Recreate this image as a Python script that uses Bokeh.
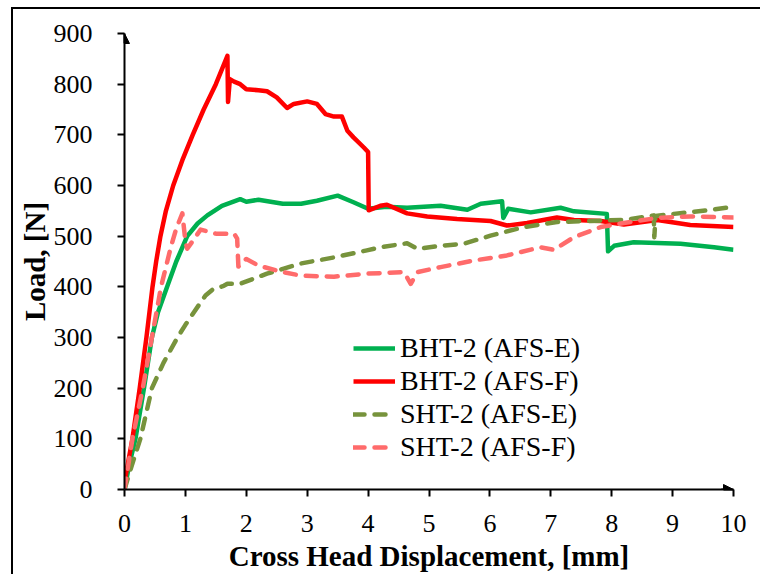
from bokeh.plotting import figure
from bokeh.models import (Range1d, Legend, LegendItem, Arrow, NormalHead, FixedTicker)
from bokeh.embed import file_html
from bokeh.resources import INLINE

# ---------------- data ----------------
x_ticks = [0, 1, 2, 3, 4, 5, 6, 7, 8, 9, 10]
y_ticks = [0, 100, 200, 300, 400, 500, 600, 700, 800, 900]

bht_e_x = [0, 0.08, 0.18, 0.32, 0.45, 0.55, 0.70, 0.85, 1.03, 1.2, 1.36, 1.6, 1.9, 2.0, 2.2,
           2.4, 2.6, 2.9, 3.16, 3.5, 3.76, 4.0, 4.3, 4.64, 5.19, 5.63, 5.85, 6.2, 6.22,
           6.3, 6.67, 7.16, 7.38, 7.92, 7.94, 8.04, 8.36, 9.13, 9.68, 10.0]
bht_e_y = [0, 50, 100, 200, 300, 350, 400, 450, 500, 525, 541, 560, 573, 568, 572,
           568, 564, 564, 570, 580, 567, 554, 558, 556, 560, 552, 564, 569, 536,
           554, 547, 556, 549, 544, 470, 481, 488, 485, 478, 473]

bht_f_x = [0, 0.13, 0.25, 0.36, 0.46, 0.52, 0.59, 0.68, 0.80, 0.95, 1.12, 1.3, 1.5, 1.69,
           1.70, 1.73, 1.8, 1.9, 2.0, 2.2, 2.34, 2.5, 2.67, 2.78, 3.0, 3.16, 3.3, 3.44,
           3.57, 3.66, 3.76, 3.93, 4.0, 4.01, 4.2, 4.31, 4.64, 4.97, 5.46, 6.01, 6.28,
           6.61, 7.1, 7.38, 7.82, 8.2, 8.75, 9.29, 10.0]
bht_f_y = [15, 100, 200, 300, 400, 450, 500, 550, 600, 650, 700, 750, 800, 856,
           765, 810, 805, 800, 790, 788, 786, 774, 753, 761, 766, 761, 741, 736,
           736, 708, 695, 675, 666, 551, 560, 562, 545, 539, 534, 530, 521,
           526, 537, 532, 530, 523, 532, 522, 518]

sht_e_x = [0, 0.1, 0.26, 0.45, 0.64, 0.87, 1.0, 1.14, 1.33, 1.45, 1.63, 1.69, 1.9, 2.34,
           2.89, 3.44, 3.98, 4.2, 4.64, 4.81, 5.19, 5.57, 6.01, 6.56, 7.1, 7.65, 8.2,
           8.69, 8.7, 8.72, 9.02, 9.57, 10.0]
sht_e_y = [0, 40, 100, 200, 250, 300, 325, 350, 383, 395, 402, 406, 406, 426,
           446, 458, 472, 478, 486, 475, 481, 485, 501, 518, 528, 530, 532,
           541, 498, 540, 544, 551, 558]

sht_f_x = [0, 0.13, 0.3, 0.45, 0.6, 0.76, 0.85, 0.95, 1.0, 1.03, 1.25, 1.5, 1.8, 1.85,
           1.87, 2.0, 2.2, 2.6, 2.9, 3.44, 3.98, 4.59, 4.7, 4.81, 5.19, 5.74, 6.28,
           6.83, 7.05, 7.38, 7.82, 8.2, 8.75, 9.29, 10.0]
sht_f_y = [0, 100, 200, 300, 400, 478, 515, 545, 490, 475, 513, 505, 505, 495,
           440, 455, 442, 429, 422, 420, 426, 429, 406, 429, 439, 452, 462,
           478, 473, 498, 518, 526, 536, 539, 537]

labels = ["BHT-2 (AFS-E)", "BHT-2 (AFS-F)", "SHT-2 (AFS-E)", "SHT-2 (AFS-F)"]
colors = ["#00B050", "#FF0000", "#77933C", "#FF6B6B"]

# ---------------- figure ----------------
# canvas placed at page (13, 9) by margin + border styles
p = figure(width=749, height=567, output_backend="svg", toolbar_location=None,
           x_range=Range1d(0, 10), y_range=Range1d(0, 900),
           min_border_left=111, min_border_right=29, min_border_top=24,
           min_border_bottom=87)
p.margin = (7, 0, 0, 11)
p.styles = {"border-left": "2px solid black", "border-top": "2px solid black"}
p.outline_line_color = None
p.xgrid.visible = False
p.ygrid.visible = False
p.background_fill_color = "white"
p.border_fill_color = "white"

FONT = "Liberation Serif"
for ax in (p.xaxis[0], p.yaxis[0]):
    ax.axis_line_color = "black"
    ax.axis_line_width = 2
    ax.major_tick_line_color = "black"
    ax.major_tick_line_width = 2
    ax.major_tick_out = 7
    ax.major_tick_in = 0
    ax.minor_tick_line_color = None
    ax.major_label_text_font = FONT
    ax.major_label_text_font_size = "26px"
    ax.major_label_text_color = "black"
    ax.axis_label_text_font = FONT
    ax.axis_label_text_font_size = "29px"
    ax.axis_label_text_font_style = "bold"
    ax.axis_label_text_color = "black"

p.xaxis.ticker = FixedTicker(ticks=x_ticks)
p.yaxis.ticker = FixedTicker(ticks=y_ticks)
p.xaxis.axis_label = "Cross Head Displacement, [mm]"
p.yaxis.axis_label = "Load, [N]"
p.xaxis.major_label_standoff = 18
p.xaxis.axis_label_standoff = 5
p.yaxis.major_label_standoff = 25
p.yaxis.axis_label_standoff = 0

# ---------------- series ----------------
r1 = p.line(bht_e_x, bht_e_y, line_color=colors[0], line_width=4.5, line_join="round")
r2 = p.line(bht_f_x, bht_f_y, line_color=colors[1], line_width=4.5, line_join="round")
r3 = p.line(sht_e_x, sht_e_y, line_color=colors[2], line_width=4.5, line_dash="11 10",
            line_cap="round", line_join="round")
r4 = p.line(sht_f_x, sht_f_y, line_color=colors[3], line_width=4.5, line_dash="11 10",
            line_cap="round", line_join="round")

legend = Legend(items=[LegendItem(label=labels[i], renderers=[r])
                       for i, r in enumerate([r1, r2, r3, r4])],
                location=(229, 26))
legend.label_text_font = FONT
legend.label_text_font_size = "28px"
legend.label_text_color = "black"
legend.glyph_width = 42
legend.glyph_height = 30
legend.label_standoff = 5
legend.spacing = 1
legend.padding = 0
legend.margin = 0
legend.border_line_color = None
legend.background_fill_alpha = 0
p.add_layout(legend, "center")

# axis arrow heads
p.add_layout(Arrow(end=NormalHead(size=10, fill_color="black", line_color="black"),
                   x_start=9.8, y_start=0, x_end=10, y_end=0, line_width=2,
                   line_color="black"))
p.add_layout(Arrow(end=NormalHead(size=10, fill_color="black", line_color="black"),
                   x_start=0, y_start=880, x_end=0, y_end=900, line_width=2,
                   line_color="black"))

open("out.html", "w").write(file_html(p, INLINE))
